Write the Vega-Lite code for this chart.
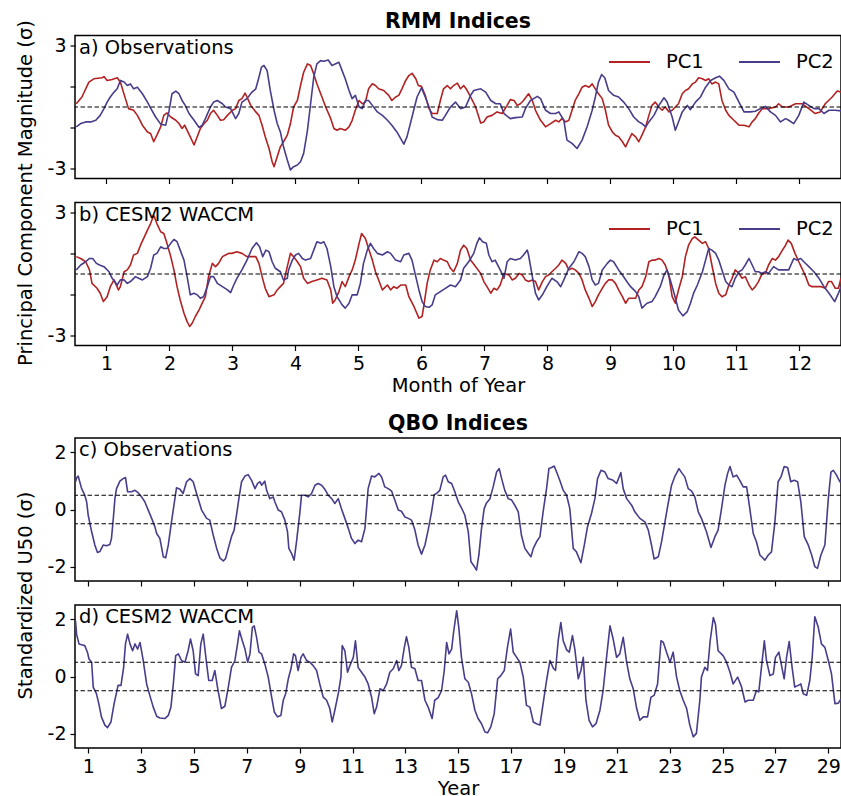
{
  "$schema": "https://vega.github.io/schema/vega-lite/v6.json",
  "background": "white",
  "padding": {"left": 14, "top": 10.5, "right": 0, "bottom": 0},
  "config": {
    "font": "DejaVu Sans",
    "view": {"stroke": "black", "strokeWidth": 1.5},
    "axis": {"domain": false, "grid": false, "ticks": true, "tickColor": "black", "tickWidth": 1.2, "tickSize": 5, "labelFont": "DejaVu Sans", "labelFontSize": 19, "labelColor": "black", "labelPadding": 4, "titleFont": "DejaVu Sans", "titleFontSize": 19.5, "titleFontWeight": "normal", "titleColor": "black", "titlePadding": 3},
    "title": {"font": "DejaVu Sans", "fontSize": 20.5, "fontWeight": "bold", "color": "black", "offset": 3.5, "anchor": "middle", "frame": "group"}
  },
  "datasets": {
    "rmmA": [
      {"s":"PC1","m":0.52,"v":0.16},{"s":"PC1","m":0.61,"v":0.49},{"s":"PC1","m":0.72,"v":1.22},{"s":"PC1","m":0.80,"v":1.38},{"s":"PC1","m":0.93,"v":1.43},{"s":"PC1","m":0.96,"v":1.49},{"s":"PC1","m":1.01,"v":1.30},{"s":"PC1","m":1.09,"v":1.35},{"s":"PC1","m":1.17,"v":1.43},{"s":"PC1","m":1.22,"v":1.22},{"s":"PC1","m":1.30,"v":0.41},{"s":"PC1","m":1.35,"v":-0.08},{"s":"PC1","m":1.43,"v":-0.16},{"s":"PC1","m":1.49,"v":-0.41},{"s":"PC1","m":1.57,"v":-0.89},{"s":"PC1","m":1.65,"v":-1.22},{"s":"PC1","m":1.70,"v":-1.30},{"s":"PC1","m":1.75,"v":-1.70},{"s":"PC1","m":1.80,"v":-1.38},{"s":"PC1","m":1.86,"v":-0.97},{"s":"PC1","m":1.91,"v":-0.41},{"s":"PC1","m":1.96,"v":-0.29},{"s":"PC1","m":2.02,"v":-0.49},{"s":"PC1","m":2.10,"v":-0.65},{"s":"PC1","m":2.15,"v":-0.81},{"s":"PC1","m":2.20,"v":-1.05},{"s":"PC1","m":2.24,"v":-0.89},{"s":"PC1","m":2.28,"v":-1.14},{"s":"PC1","m":2.33,"v":-1.46},{"s":"PC1","m":2.39,"v":-1.86},{"s":"PC1","m":2.44,"v":-1.46},{"s":"PC1","m":2.49,"v":-1.05},{"s":"PC1","m":2.55,"v":-0.81},{"s":"PC1","m":2.60,"v":-0.65},{"s":"PC1","m":2.65,"v":-0.32},{"s":"PC1","m":2.70,"v":-0.16},{"s":"PC1","m":2.76,"v":-0.41},{"s":"PC1","m":2.81,"v":-0.65},{"s":"PC1","m":2.86,"v":-0.62},{"s":"PC1","m":2.92,"v":-0.41},{"s":"PC1","m":3.00,"v":-0.16},{"s":"PC1","m":3.05,"v":-0.08},{"s":"PC1","m":3.10,"v":0.32},{"s":"PC1","m":3.15,"v":0.41},{"s":"PC1","m":3.20,"v":0.68},{"s":"PC1","m":3.23,"v":0.49},{"s":"PC1","m":3.29,"v":0.08},{"s":"PC1","m":3.37,"v":-0.24},{"s":"PC1","m":3.42,"v":-0.41},{"s":"PC1","m":3.47,"v":-0.89},{"s":"PC1","m":3.52,"v":-1.46},{"s":"PC1","m":3.58,"v":-2.03},{"s":"PC1","m":3.63,"v":-2.68},{"s":"PC1","m":3.66,"v":-2.92},{"s":"PC1","m":3.71,"v":-2.43},{"s":"PC1","m":3.76,"v":-1.95},{"s":"PC1","m":3.81,"v":-1.70},{"s":"PC1","m":3.87,"v":-1.38},{"s":"PC1","m":3.92,"v":-0.81},{"s":"PC1","m":3.97,"v":0.00},{"s":"PC1","m":4.03,"v":0.32},{"s":"PC1","m":4.08,"v":1.05},{"s":"PC1","m":4.13,"v":1.70},{"s":"PC1","m":4.19,"v":2.11},{"s":"PC1","m":4.24,"v":2.03},{"s":"PC1","m":4.29,"v":1.62},{"s":"PC1","m":4.34,"v":1.14},{"s":"PC1","m":4.42,"v":0.49},{"s":"PC1","m":4.48,"v":0.00},{"s":"PC1","m":4.56,"v":-0.57},{"s":"PC1","m":4.61,"v":-1.05},{"s":"PC1","m":4.66,"v":-1.14},{"s":"PC1","m":4.71,"v":-1.05},{"s":"PC1","m":4.79,"v":-1.14},{"s":"PC1","m":4.85,"v":-0.97},{"s":"PC1","m":4.90,"v":-0.65},{"s":"PC1","m":4.95,"v":-0.16},{"s":"PC1","m":5.01,"v":0.32},{"s":"PC1","m":5.06,"v":0.16},{"s":"PC1","m":5.11,"v":0.24},{"s":"PC1","m":5.16,"v":0.89},{"s":"PC1","m":5.22,"v":1.14},{"s":"PC1","m":5.27,"v":1.05},{"s":"PC1","m":5.32,"v":0.89},{"s":"PC1","m":5.40,"v":0.81},{"s":"PC1","m":5.48,"v":0.57},{"s":"PC1","m":5.53,"v":0.32},{"s":"PC1","m":5.59,"v":0.49},{"s":"PC1","m":5.64,"v":0.57},{"s":"PC1","m":5.69,"v":0.89},{"s":"PC1","m":5.75,"v":1.30},{"s":"PC1","m":5.80,"v":1.54},{"s":"PC1","m":5.85,"v":1.65},{"s":"PC1","m":5.91,"v":1.38},{"s":"PC1","m":5.95,"v":1.05},{"s":"PC1","m":6.00,"v":1.01},
      {"s":"PC1","m":6.06,"v":0.57},{"s":"PC1","m":6.12,"v":-0.08},{"s":"PC1","m":6.17,"v":-0.32},{"s":"PC1","m":6.25,"v":-0.32},{"s":"PC1","m":6.30,"v":0.32},{"s":"PC1","m":6.35,"v":0.89},{"s":"PC1","m":6.41,"v":1.05},{"s":"PC1","m":6.46,"v":0.89},{"s":"PC1","m":6.51,"v":1.05},{"s":"PC1","m":6.57,"v":1.17},{"s":"PC1","m":6.62,"v":0.89},{"s":"PC1","m":6.67,"v":1.05},{"s":"PC1","m":6.72,"v":0.84},{"s":"PC1","m":6.78,"v":0.49},{"s":"PC1","m":6.86,"v":0.00},{"s":"PC1","m":6.91,"v":-0.49},{"s":"PC1","m":6.94,"v":-0.78},{"s":"PC1","m":6.99,"v":-0.73},{"s":"PC1","m":7.04,"v":-0.49},{"s":"PC1","m":7.12,"v":-0.41},{"s":"PC1","m":7.20,"v":-0.24},{"s":"PC1","m":7.28,"v":-0.32},{"s":"PC1","m":7.36,"v":0.08},{"s":"PC1","m":7.41,"v":0.36},{"s":"PC1","m":7.47,"v":0.32},{"s":"PC1","m":7.52,"v":0.08},{"s":"PC1","m":7.57,"v":0.16},{"s":"PC1","m":7.62,"v":0.32},{"s":"PC1","m":7.70,"v":0.65},{"s":"PC1","m":7.76,"v":0.32},{"s":"PC1","m":7.81,"v":-0.16},{"s":"PC1","m":7.89,"v":-0.65},{"s":"PC1","m":7.97,"v":-0.97},{"s":"PC1","m":8.05,"v":-0.81},{"s":"PC1","m":8.13,"v":-0.65},{"s":"PC1","m":8.18,"v":-0.73},{"s":"PC1","m":8.23,"v":-0.57},{"s":"PC1","m":8.29,"v":-0.73},{"s":"PC1","m":8.34,"v":-0.65},{"s":"PC1","m":8.39,"v":-0.16},{"s":"PC1","m":8.44,"v":0.32},{"s":"PC1","m":8.50,"v":0.65},{"s":"PC1","m":8.55,"v":0.97},{"s":"PC1","m":8.60,"v":1.05},{"s":"PC1","m":8.66,"v":0.97},{"s":"PC1","m":8.71,"v":1.13},{"s":"PC1","m":8.76,"v":0.89},{"s":"PC1","m":8.81,"v":0.65},{"s":"PC1","m":8.87,"v":0.41},{"s":"PC1","m":8.92,"v":-0.16},{"s":"PC1","m":8.97,"v":-0.89},{"s":"PC1","m":9.03,"v":-1.22},{"s":"PC1","m":9.08,"v":-1.38},{"s":"PC1","m":9.13,"v":-1.46},{"s":"PC1","m":9.19,"v":-1.70},{"s":"PC1","m":9.24,"v":-1.95},{"s":"PC1","m":9.29,"v":-1.62},{"s":"PC1","m":9.34,"v":-1.30},{"s":"PC1","m":9.40,"v":-1.46},{"s":"PC1","m":9.45,"v":-1.70},{"s":"PC1","m":9.50,"v":-1.38},{"s":"PC1","m":9.56,"v":-0.97},{"s":"PC1","m":9.61,"v":-0.41},{"s":"PC1","m":9.66,"v":0.08},{"s":"PC1","m":9.71,"v":0.24},{"s":"PC1","m":9.77,"v":0.00},{"s":"PC1","m":9.82,"v":-0.16},{"s":"PC1","m":9.87,"v":0.00},{"s":"PC1","m":9.93,"v":-0.24},{"s":"PC1","m":9.98,"v":-0.16},{"s":"PC1","m":10.03,"v":0.00},{"s":"PC1","m":10.08,"v":0.16},{"s":"PC1","m":10.14,"v":0.65},{"s":"PC1","m":10.19,"v":0.81},{"s":"PC1","m":10.24,"v":0.89},{"s":"PC1","m":10.30,"v":1.13},{"s":"PC1","m":10.35,"v":1.22},{"s":"PC1","m":10.40,"v":1.43},{"s":"PC1","m":10.46,"v":1.38},{"s":"PC1","m":10.51,"v":1.30},{"s":"PC1","m":10.56,"v":1.38},{"s":"PC1","m":10.61,"v":1.13},{"s":"PC1","m":10.67,"v":1.22},{"s":"PC1","m":10.72,"v":1.13},{"s":"PC1","m":10.77,"v":0.32},{"s":"PC1","m":10.83,"v":-0.16},{"s":"PC1","m":10.88,"v":-0.41},{"s":"PC1","m":10.96,"v":-0.65},{"s":"PC1","m":11.04,"v":-0.89},{"s":"PC1","m":11.12,"v":-0.89},{"s":"PC1","m":11.20,"v":-0.97},{"s":"PC1","m":11.25,"v":-0.73},{"s":"PC1","m":11.30,"v":-0.57},{"s":"PC1","m":11.35,"v":-0.32},{"s":"PC1","m":11.41,"v":-0.08},{"s":"PC1","m":11.51,"v":-0.08},{"s":"PC1","m":11.62,"v":0.00},{"s":"PC1","m":11.67,"v":0.16},{"s":"PC1","m":11.73,"v":0.00},{"s":"PC1","m":11.83,"v":0.00},{"s":"PC1","m":11.94,"v":0.16},{"s":"PC1","m":12.04,"v":0.16},{"s":"PC1","m":12.15,"v":-0.08},{"s":"PC1","m":12.25,"v":-0.32},{"s":"PC1","m":12.33,"v":-0.24},{"s":"PC1","m":12.41,"v":0.16},{"s":"PC1","m":12.52,"v":0.49},{"s":"PC1","m":12.60,"v":0.78},{"s":"PC1","m":12.66,"v":0.73},
      {"s":"PC2","m":0.52,"v":-0.97},{"s":"PC2","m":0.59,"v":-0.81},{"s":"PC2","m":0.67,"v":-0.73},{"s":"PC2","m":0.75,"v":-0.73},{"s":"PC2","m":0.83,"v":-0.65},{"s":"PC2","m":0.90,"v":-0.41},{"s":"PC2","m":0.96,"v":-0.08},{"s":"PC2","m":1.01,"v":0.24},{"s":"PC2","m":1.06,"v":0.49},{"s":"PC2","m":1.12,"v":0.73},{"s":"PC2","m":1.17,"v":0.89},{"s":"PC2","m":1.22,"v":1.30},{"s":"PC2","m":1.28,"v":1.22},{"s":"PC2","m":1.33,"v":1.05},{"s":"PC2","m":1.38,"v":1.13},{"s":"PC2","m":1.43,"v":0.89},{"s":"PC2","m":1.49,"v":0.97},{"s":"PC2","m":1.57,"v":0.65},{"s":"PC2","m":1.65,"v":0.24},{"s":"PC2","m":1.72,"v":-0.16},{"s":"PC2","m":1.78,"v":-0.49},{"s":"PC2","m":1.86,"v":-0.84},{"s":"PC2","m":1.94,"v":-0.89},{"s":"PC2","m":1.99,"v":-0.24},{"s":"PC2","m":2.04,"v":0.65},{"s":"PC2","m":2.10,"v":0.78},{"s":"PC2","m":2.15,"v":0.65},{"s":"PC2","m":2.20,"v":0.32},{"s":"PC2","m":2.25,"v":0.08},{"s":"PC2","m":2.31,"v":-0.32},{"s":"PC2","m":2.39,"v":-0.65},{"s":"PC2","m":2.47,"v":-1.00},{"s":"PC2","m":2.52,"v":-0.89},{"s":"PC2","m":2.57,"v":-0.57},{"s":"PC2","m":2.65,"v":0.00},{"s":"PC2","m":2.70,"v":0.24},{"s":"PC2","m":2.76,"v":0.32},{"s":"PC2","m":2.84,"v":0.16},{"s":"PC2","m":2.89,"v":0.00},{"s":"PC2","m":2.97,"v":-0.08},{"s":"PC2","m":3.05,"v":-0.57},{"s":"PC2","m":3.10,"v":-0.32},{"s":"PC2","m":3.15,"v":0.24},{"s":"PC2","m":3.23,"v":0.41},{"s":"PC2","m":3.31,"v":0.73},{"s":"PC2","m":3.37,"v":0.89},{"s":"PC2","m":3.42,"v":1.46},{"s":"PC2","m":3.46,"v":1.95},{"s":"PC2","m":3.50,"v":2.03},{"s":"PC2","m":3.55,"v":1.78},{"s":"PC2","m":3.60,"v":0.81},{"s":"PC2","m":3.66,"v":-0.16},{"s":"PC2","m":3.71,"v":-0.81},{"s":"PC2","m":3.76,"v":-1.22},{"s":"PC2","m":3.81,"v":-1.95},{"s":"PC2","m":3.87,"v":-2.59},{"s":"PC2","m":3.92,"v":-3.08},{"s":"PC2","m":3.97,"v":-2.92},{"s":"PC2","m":4.03,"v":-2.84},{"s":"PC2","m":4.08,"v":-2.68},{"s":"PC2","m":4.13,"v":-2.27},{"s":"PC2","m":4.19,"v":-1.14},{"s":"PC2","m":4.24,"v":0.16},{"s":"PC2","m":4.29,"v":1.46},{"s":"PC2","m":4.34,"v":2.11},{"s":"PC2","m":4.40,"v":2.27},{"s":"PC2","m":4.45,"v":2.24},{"s":"PC2","m":4.52,"v":2.30},{"s":"PC2","m":4.58,"v":2.03},{"s":"PC2","m":4.63,"v":2.11},{"s":"PC2","m":4.69,"v":2.19},{"s":"PC2","m":4.74,"v":1.78},{"s":"PC2","m":4.79,"v":1.38},{"s":"PC2","m":4.85,"v":0.81},{"s":"PC2","m":4.90,"v":0.41},{"s":"PC2","m":4.95,"v":0.57},{"s":"PC2","m":5.01,"v":0.00},{"s":"PC2","m":5.06,"v":-0.08},{"s":"PC2","m":5.11,"v":0.32},{"s":"PC2","m":5.16,"v":0.32},{"s":"PC2","m":5.22,"v":0.08},{"s":"PC2","m":5.30,"v":-0.24},{"s":"PC2","m":5.38,"v":-0.41},{"s":"PC2","m":5.46,"v":-0.65},{"s":"PC2","m":5.53,"v":-0.89},{"s":"PC2","m":5.61,"v":-1.22},{"s":"PC2","m":5.72,"v":-1.82},{"s":"PC2","m":5.77,"v":-1.46},{"s":"PC2","m":5.85,"v":-0.49},{"s":"PC2","m":5.93,"v":0.49},{"s":"PC2","m":6.00,"v":0.94},
      {"s":"PC2","m":6.06,"v":0.49},{"s":"PC2","m":6.12,"v":0.00},{"s":"PC2","m":6.17,"v":-0.49},{"s":"PC2","m":6.25,"v":-0.62},{"s":"PC2","m":6.33,"v":-0.65},{"s":"PC2","m":6.38,"v":-0.41},{"s":"PC2","m":6.46,"v":0.00},{"s":"PC2","m":6.54,"v":0.24},{"s":"PC2","m":6.62,"v":-0.08},{"s":"PC2","m":6.70,"v":0.00},{"s":"PC2","m":6.78,"v":0.57},{"s":"PC2","m":6.83,"v":0.81},{"s":"PC2","m":6.94,"v":0.89},{"s":"PC2","m":7.02,"v":0.73},{"s":"PC2","m":7.10,"v":0.32},{"s":"PC2","m":7.18,"v":0.16},{"s":"PC2","m":7.25,"v":0.16},{"s":"PC2","m":7.31,"v":-0.32},{"s":"PC2","m":7.41,"v":-0.57},{"s":"PC2","m":7.49,"v":-0.52},{"s":"PC2","m":7.60,"v":-0.49},{"s":"PC2","m":7.65,"v":-0.08},{"s":"PC2","m":7.73,"v":0.32},{"s":"PC2","m":7.84,"v":0.52},{"s":"PC2","m":7.89,"v":0.41},{"s":"PC2","m":7.97,"v":-0.16},{"s":"PC2","m":8.05,"v":-0.32},{"s":"PC2","m":8.13,"v":-0.32},{"s":"PC2","m":8.18,"v":-0.24},{"s":"PC2","m":8.26,"v":-0.65},{"s":"PC2","m":8.31,"v":-1.62},{"s":"PC2","m":8.39,"v":-1.78},{"s":"PC2","m":8.47,"v":-2.03},{"s":"PC2","m":8.55,"v":-1.62},{"s":"PC2","m":8.63,"v":-0.97},{"s":"PC2","m":8.71,"v":-0.16},{"s":"PC2","m":8.76,"v":0.49},{"s":"PC2","m":8.81,"v":1.22},{"s":"PC2","m":8.86,"v":1.59},{"s":"PC2","m":8.91,"v":1.43},{"s":"PC2","m":8.97,"v":0.81},{"s":"PC2","m":9.05,"v":0.57},{"s":"PC2","m":9.13,"v":0.49},{"s":"PC2","m":9.21,"v":0.24},{"s":"PC2","m":9.29,"v":-0.08},{"s":"PC2","m":9.37,"v":-0.49},{"s":"PC2","m":9.45,"v":-0.73},{"s":"PC2","m":9.50,"v":-0.81},{"s":"PC2","m":9.56,"v":-0.97},{"s":"PC2","m":9.61,"v":-0.73},{"s":"PC2","m":9.69,"v":-0.41},{"s":"PC2","m":9.77,"v":0.08},{"s":"PC2","m":9.85,"v":0.45},{"s":"PC2","m":9.90,"v":0.24},{"s":"PC2","m":9.98,"v":-0.49},{"s":"PC2","m":10.03,"v":-1.14},{"s":"PC2","m":10.08,"v":-0.73},{"s":"PC2","m":10.14,"v":-0.24},{"s":"PC2","m":10.22,"v":0.08},{"s":"PC2","m":10.27,"v":-0.13},{"s":"PC2","m":10.35,"v":0.24},{"s":"PC2","m":10.43,"v":0.49},{"s":"PC2","m":10.51,"v":0.97},{"s":"PC2","m":10.59,"v":1.30},{"s":"PC2","m":10.67,"v":1.43},{"s":"PC2","m":10.73,"v":1.51},{"s":"PC2","m":10.80,"v":1.30},{"s":"PC2","m":10.88,"v":0.89},{"s":"PC2","m":10.96,"v":0.73},{"s":"PC2","m":11.04,"v":0.24},{"s":"PC2","m":11.12,"v":-0.24},{"s":"PC2","m":11.22,"v":-0.24},{"s":"PC2","m":11.30,"v":-0.21},{"s":"PC2","m":11.38,"v":-0.08},{"s":"PC2","m":11.46,"v":0.03},{"s":"PC2","m":11.54,"v":-0.24},{"s":"PC2","m":11.62,"v":-0.41},{"s":"PC2","m":11.70,"v":-0.73},{"s":"PC2","m":11.78,"v":-0.57},{"s":"PC2","m":11.83,"v":-0.65},{"s":"PC2","m":11.91,"v":-0.81},{"s":"PC2","m":11.99,"v":-0.41},{"s":"PC2","m":12.07,"v":0.24},{"s":"PC2","m":12.15,"v":0.08},{"s":"PC2","m":12.23,"v":-0.08},{"s":"PC2","m":12.31,"v":-0.08},{"s":"PC2","m":12.39,"v":-0.32},{"s":"PC2","m":12.47,"v":-0.16},{"s":"PC2","m":12.57,"v":-0.16},{"s":"PC2","m":12.66,"v":-0.19}
    ],
    "rmmB": [
      {"s":"PC1","m":0.52,"v":0.85},{"s":"PC1","m":0.59,"v":0.76},{"s":"PC1","m":0.67,"v":0.60},{"s":"PC1","m":0.73,"v":0.20},{"s":"PC1","m":0.77,"v":-0.46},{"s":"PC1","m":0.85,"v":-0.70},{"s":"PC1","m":0.90,"v":-0.94},{"s":"PC1","m":0.95,"v":-1.35},{"s":"PC1","m":1.01,"v":-1.11},{"s":"PC1","m":1.06,"v":-0.62},{"s":"PC1","m":1.12,"v":-0.29},{"s":"PC1","m":1.19,"v":-0.78},{"s":"PC1","m":1.22,"v":-0.62},{"s":"PC1","m":1.28,"v":0.11},{"s":"PC1","m":1.33,"v":0.20},{"s":"PC1","m":1.38,"v":0.44},{"s":"PC1","m":1.43,"v":0.93},{"s":"PC1","m":1.49,"v":1.01},{"s":"PC1","m":1.54,"v":1.41},{"s":"PC1","m":1.59,"v":1.74},{"s":"PC1","m":1.65,"v":2.15},{"s":"PC1","m":1.70,"v":2.47},{"s":"PC1","m":1.75,"v":2.88},{"s":"PC1","m":1.80,"v":2.47},{"s":"PC1","m":1.86,"v":2.07},{"s":"PC1","m":1.91,"v":1.98},{"s":"PC1","m":1.96,"v":1.50},{"s":"PC1","m":2.02,"v":0.85},{"s":"PC1","m":2.07,"v":0.20},{"s":"PC1","m":2.12,"v":-0.62},{"s":"PC1","m":2.17,"v":-1.27},{"s":"PC1","m":2.23,"v":-1.92},{"s":"PC1","m":2.28,"v":-2.33},{"s":"PC1","m":2.32,"v":-2.57},{"s":"PC1","m":2.36,"v":-2.41},{"s":"PC1","m":2.41,"v":-2.08},{"s":"PC1","m":2.47,"v":-1.76},{"s":"PC1","m":2.52,"v":-1.43},{"s":"PC1","m":2.57,"v":-1.11},{"s":"PC1","m":2.62,"v":-0.13},{"s":"PC1","m":2.68,"v":0.52},{"s":"PC1","m":2.73,"v":0.36},{"s":"PC1","m":2.78,"v":0.52},{"s":"PC1","m":2.84,"v":0.85},{"s":"PC1","m":2.89,"v":0.93},{"s":"PC1","m":2.94,"v":1.01},{"s":"PC1","m":2.99,"v":1.01},{"s":"PC1","m":3.07,"v":1.09},{"s":"PC1","m":3.15,"v":1.01},{"s":"PC1","m":3.23,"v":0.85},{"s":"PC1","m":3.29,"v":0.85},{"s":"PC1","m":3.37,"v":0.85},{"s":"PC1","m":3.42,"v":0.52},{"s":"PC1","m":3.47,"v":-0.13},{"s":"PC1","m":3.52,"v":-0.70},{"s":"PC1","m":3.58,"v":-1.11},{"s":"PC1","m":3.66,"v":-1.02},{"s":"PC1","m":3.71,"v":-0.78},{"s":"PC1","m":3.76,"v":-0.62},{"s":"PC1","m":3.81,"v":-0.46},{"s":"PC1","m":3.87,"v":0.36},{"s":"PC1","m":3.92,"v":1.01},{"s":"PC1","m":3.97,"v":0.85},{"s":"PC1","m":4.03,"v":0.60},{"s":"PC1","m":4.08,"v":0.36},{"s":"PC1","m":4.13,"v":-0.21},{"s":"PC1","m":4.19,"v":-0.46},{"s":"PC1","m":4.26,"v":-0.37},{"s":"PC1","m":4.34,"v":-0.29},{"s":"PC1","m":4.42,"v":-0.21},{"s":"PC1","m":4.50,"v":-0.29},{"s":"PC1","m":4.56,"v":-0.78},{"s":"PC1","m":4.59,"v":-1.43},{"s":"PC1","m":4.63,"v":-1.27},{"s":"PC1","m":4.69,"v":-0.86},{"s":"PC1","m":4.74,"v":-0.37},{"s":"PC1","m":4.79,"v":-0.62},{"s":"PC1","m":4.85,"v":-0.13},{"s":"PC1","m":4.90,"v":0.20},{"s":"PC1","m":4.95,"v":0.68},{"s":"PC1","m":5.01,"v":1.50},{"s":"PC1","m":5.05,"v":1.98},{"s":"PC1","m":5.11,"v":1.74},{"s":"PC1","m":5.16,"v":1.25},{"s":"PC1","m":5.22,"v":0.68},{"s":"PC1","m":5.27,"v":0.11},{"s":"PC1","m":5.32,"v":-0.29},{"s":"PC1","m":5.38,"v":-0.78},{"s":"PC1","m":5.46,"v":-0.54},{"s":"PC1","m":5.51,"v":-0.78},{"s":"PC1","m":5.56,"v":-0.62},{"s":"PC1","m":5.61,"v":-0.70},{"s":"PC1","m":5.67,"v":-0.54},{"s":"PC1","m":5.75,"v":-0.54},{"s":"PC1","m":5.80,"v":-1.11},{"s":"PC1","m":5.88,"v":-1.59},{"s":"PC1","m":5.96,"v":-2.16},
      {"s":"PC1","m":6.01,"v":-2.08},{"s":"PC1","m":6.04,"v":-1.51},{"s":"PC1","m":6.09,"v":-0.46},{"s":"PC1","m":6.14,"v":0.20},{"s":"PC1","m":6.20,"v":0.68},{"s":"PC1","m":6.25,"v":0.60},{"s":"PC1","m":6.30,"v":0.76},{"s":"PC1","m":6.35,"v":0.68},{"s":"PC1","m":6.41,"v":0.60},{"s":"PC1","m":6.46,"v":0.28},{"s":"PC1","m":6.51,"v":0.11},{"s":"PC1","m":6.57,"v":0.52},{"s":"PC1","m":6.62,"v":1.17},{"s":"PC1","m":6.67,"v":1.41},{"s":"PC1","m":6.72,"v":1.25},{"s":"PC1","m":6.78,"v":0.68},{"s":"PC1","m":6.86,"v":0.36},{"s":"PC1","m":6.94,"v":0.03},{"s":"PC1","m":6.99,"v":-0.37},{"s":"PC1","m":7.04,"v":-0.62},{"s":"PC1","m":7.10,"v":-0.94},{"s":"PC1","m":7.15,"v":-0.70},{"s":"PC1","m":7.20,"v":-0.78},{"s":"PC1","m":7.25,"v":-0.54},{"s":"PC1","m":7.31,"v":0.03},{"s":"PC1","m":7.39,"v":-0.05},{"s":"PC1","m":7.44,"v":-0.29},{"s":"PC1","m":7.49,"v":-0.21},{"s":"PC1","m":7.55,"v":0.03},{"s":"PC1","m":7.60,"v":-0.05},{"s":"PC1","m":7.65,"v":-0.29},{"s":"PC1","m":7.70,"v":-0.37},{"s":"PC1","m":7.76,"v":-0.29},{"s":"PC1","m":7.81,"v":-0.37},{"s":"PC1","m":7.86,"v":-0.78},{"s":"PC1","m":7.92,"v":-0.37},{"s":"PC1","m":7.97,"v":-0.13},{"s":"PC1","m":8.02,"v":-0.05},{"s":"PC1","m":8.07,"v":0.11},{"s":"PC1","m":8.13,"v":0.28},{"s":"PC1","m":8.18,"v":0.44},{"s":"PC1","m":8.23,"v":0.68},{"s":"PC1","m":8.29,"v":0.52},{"s":"PC1","m":8.34,"v":0.20},{"s":"PC1","m":8.39,"v":0.28},{"s":"PC1","m":8.44,"v":0.20},{"s":"PC1","m":8.50,"v":0.03},{"s":"PC1","m":8.55,"v":-0.29},{"s":"PC1","m":8.60,"v":-0.78},{"s":"PC1","m":8.66,"v":-1.19},{"s":"PC1","m":8.71,"v":-1.59},{"s":"PC1","m":8.76,"v":-1.35},{"s":"PC1","m":8.81,"v":-1.02},{"s":"PC1","m":8.87,"v":-0.70},{"s":"PC1","m":8.92,"v":-0.46},{"s":"PC1","m":8.97,"v":-0.29},{"s":"PC1","m":9.03,"v":-0.29},{"s":"PC1","m":9.08,"v":-0.46},{"s":"PC1","m":9.13,"v":-0.78},{"s":"PC1","m":9.19,"v":-1.11},{"s":"PC1","m":9.24,"v":-1.43},{"s":"PC1","m":9.29,"v":-1.19},{"s":"PC1","m":9.34,"v":-1.19},{"s":"PC1","m":9.40,"v":-1.19},{"s":"PC1","m":9.45,"v":-0.78},{"s":"PC1","m":9.50,"v":-0.62},{"s":"PC1","m":9.56,"v":-0.13},{"s":"PC1","m":9.61,"v":0.60},{"s":"PC1","m":9.66,"v":0.68},{"s":"PC1","m":9.71,"v":0.68},{"s":"PC1","m":9.77,"v":0.76},{"s":"PC1","m":9.82,"v":0.68},{"s":"PC1","m":9.87,"v":0.44},{"s":"PC1","m":9.93,"v":-0.13},{"s":"PC1","m":9.98,"v":-1.11},{"s":"PC1","m":10.03,"v":-1.43},{"s":"PC1","m":10.08,"v":-0.78},{"s":"PC1","m":10.14,"v":-0.13},{"s":"PC1","m":10.19,"v":0.85},{"s":"PC1","m":10.24,"v":1.41},{"s":"PC1","m":10.30,"v":1.74},{"s":"PC1","m":10.34,"v":1.82},{"s":"PC1","m":10.40,"v":1.66},{"s":"PC1","m":10.46,"v":1.50},{"s":"PC1","m":10.51,"v":1.58},{"s":"PC1","m":10.56,"v":1.25},{"s":"PC1","m":10.61,"v":0.44},{"s":"PC1","m":10.67,"v":-0.46},{"s":"PC1","m":10.72,"v":-0.94},{"s":"PC1","m":10.77,"v":-1.11},{"s":"PC1","m":10.83,"v":-1.02},{"s":"PC1","m":10.88,"v":-0.54},{"s":"PC1","m":10.93,"v":-0.21},{"s":"PC1","m":10.98,"v":0.20},{"s":"PC1","m":11.04,"v":0.03},{"s":"PC1","m":11.09,"v":-0.21},{"s":"PC1","m":11.14,"v":-0.13},{"s":"PC1","m":11.20,"v":-0.54},{"s":"PC1","m":11.25,"v":-0.78},{"s":"PC1","m":11.30,"v":-0.62},{"s":"PC1","m":11.35,"v":-0.37},{"s":"PC1","m":11.41,"v":0.03},{"s":"PC1","m":11.46,"v":0.03},{"s":"PC1","m":11.51,"v":0.44},{"s":"PC1","m":11.57,"v":0.76},{"s":"PC1","m":11.62,"v":0.68},{"s":"PC1","m":11.67,"v":0.85},{"s":"PC1","m":11.73,"v":1.17},{"s":"PC1","m":11.78,"v":1.41},{"s":"PC1","m":11.82,"v":1.66},{"s":"PC1","m":11.87,"v":1.50},{"s":"PC1","m":11.93,"v":1.01},{"s":"PC1","m":11.99,"v":0.60},{"s":"PC1","m":12.04,"v":0.28},{"s":"PC1","m":12.10,"v":-0.13},{"s":"PC1","m":12.15,"v":-0.54},{"s":"PC1","m":12.20,"v":-0.62},{"s":"PC1","m":12.28,"v":-0.62},{"s":"PC1","m":12.35,"v":-0.62},{"s":"PC1","m":12.41,"v":-0.70},{"s":"PC1","m":12.46,"v":-0.37},{"s":"PC1","m":12.51,"v":-0.37},{"s":"PC1","m":12.57,"v":-0.70},{"s":"PC1","m":12.62,"v":-0.70},{"s":"PC1","m":12.66,"v":-0.21},
      {"s":"PC2","m":0.52,"v":0.20},{"s":"PC2","m":0.59,"v":0.44},{"s":"PC2","m":0.67,"v":0.60},{"s":"PC2","m":0.73,"v":0.76},{"s":"PC2","m":0.78,"v":0.76},{"s":"PC2","m":0.84,"v":0.52},{"s":"PC2","m":0.89,"v":0.44},{"s":"PC2","m":0.96,"v":0.36},{"s":"PC2","m":1.04,"v":0.11},{"s":"PC2","m":1.09,"v":-0.21},{"s":"PC2","m":1.17,"v":-0.54},{"s":"PC2","m":1.22,"v":-0.29},{"s":"PC2","m":1.28,"v":-0.29},{"s":"PC2","m":1.33,"v":-0.46},{"s":"PC2","m":1.38,"v":-0.37},{"s":"PC2","m":1.46,"v":-0.13},{"s":"PC2","m":1.51,"v":-0.21},{"s":"PC2","m":1.57,"v":-0.29},{"s":"PC2","m":1.65,"v":-0.13},{"s":"PC2","m":1.70,"v":0.28},{"s":"PC2","m":1.75,"v":0.93},{"s":"PC2","m":1.80,"v":1.01},{"s":"PC2","m":1.86,"v":1.33},{"s":"PC2","m":1.91,"v":1.25},{"s":"PC2","m":1.96,"v":1.25},{"s":"PC2","m":2.02,"v":1.50},{"s":"PC2","m":2.07,"v":1.69},{"s":"PC2","m":2.12,"v":1.58},{"s":"PC2","m":2.17,"v":1.17},{"s":"PC2","m":2.23,"v":0.68},{"s":"PC2","m":2.28,"v":-0.13},{"s":"PC2","m":2.33,"v":-1.02},{"s":"PC2","m":2.39,"v":-0.94},{"s":"PC2","m":2.44,"v":-1.02},{"s":"PC2","m":2.49,"v":-1.19},{"s":"PC2","m":2.54,"v":-1.11},{"s":"PC2","m":2.60,"v":-0.62},{"s":"PC2","m":2.65,"v":-0.13},{"s":"PC2","m":2.70,"v":-0.13},{"s":"PC2","m":2.76,"v":-0.46},{"s":"PC2","m":2.84,"v":-0.62},{"s":"PC2","m":2.92,"v":-0.78},{"s":"PC2","m":2.97,"v":-0.91},{"s":"PC2","m":3.02,"v":-0.54},{"s":"PC2","m":3.07,"v":-0.21},{"s":"PC2","m":3.15,"v":0.20},{"s":"PC2","m":3.23,"v":0.68},{"s":"PC2","m":3.31,"v":1.25},{"s":"PC2","m":3.38,"v":1.53},{"s":"PC2","m":3.43,"v":1.33},{"s":"PC2","m":3.48,"v":0.85},{"s":"PC2","m":3.53,"v":1.17},{"s":"PC2","m":3.58,"v":1.09},{"s":"PC2","m":3.63,"v":0.60},{"s":"PC2","m":3.68,"v":0.28},{"s":"PC2","m":3.76,"v":0.11},{"s":"PC2","m":3.81,"v":-0.29},{"s":"PC2","m":3.87,"v":-0.21},{"s":"PC2","m":3.89,"v":0.20},{"s":"PC2","m":3.95,"v":0.68},{"s":"PC2","m":4.00,"v":0.93},{"s":"PC2","m":4.05,"v":1.01},{"s":"PC2","m":4.11,"v":0.76},{"s":"PC2","m":4.16,"v":0.68},{"s":"PC2","m":4.24,"v":0.76},{"s":"PC2","m":4.29,"v":1.17},{"s":"PC2","m":4.34,"v":1.58},{"s":"PC2","m":4.40,"v":1.50},{"s":"PC2","m":4.45,"v":1.58},{"s":"PC2","m":4.50,"v":1.25},{"s":"PC2","m":4.56,"v":0.36},{"s":"PC2","m":4.61,"v":-0.62},{"s":"PC2","m":4.66,"v":-1.11},{"s":"PC2","m":4.74,"v":-1.51},{"s":"PC2","m":4.79,"v":-1.67},{"s":"PC2","m":4.85,"v":-1.43},{"s":"PC2","m":4.90,"v":-1.02},{"s":"PC2","m":4.98,"v":-1.02},{"s":"PC2","m":5.03,"v":-0.46},{"s":"PC2","m":5.08,"v":0.52},{"s":"PC2","m":5.14,"v":1.17},{"s":"PC2","m":5.19,"v":1.50},{"s":"PC2","m":5.24,"v":1.25},{"s":"PC2","m":5.30,"v":1.01},{"s":"PC2","m":5.38,"v":0.93},{"s":"PC2","m":5.46,"v":1.09},{"s":"PC2","m":5.51,"v":1.01},{"s":"PC2","m":5.59,"v":0.68},{"s":"PC2","m":5.67,"v":0.60},{"s":"PC2","m":5.72,"v":0.93},{"s":"PC2","m":5.80,"v":1.01},{"s":"PC2","m":5.85,"v":0.68},{"s":"PC2","m":5.91,"v":-0.13},{"s":"PC2","m":5.96,"v":-0.78},
      {"s":"PC2","m":6.01,"v":-1.35},{"s":"PC2","m":6.06,"v":-1.59},{"s":"PC2","m":6.12,"v":-1.63},{"s":"PC2","m":6.17,"v":-1.51},{"s":"PC2","m":6.22,"v":-1.02},{"s":"PC2","m":6.30,"v":-0.86},{"s":"PC2","m":6.38,"v":-0.70},{"s":"PC2","m":6.46,"v":-0.54},{"s":"PC2","m":6.54,"v":-0.62},{"s":"PC2","m":6.62,"v":-0.29},{"s":"PC2","m":6.67,"v":0.28},{"s":"PC2","m":6.75,"v":0.60},{"s":"PC2","m":6.83,"v":1.01},{"s":"PC2","m":6.88,"v":1.50},{"s":"PC2","m":6.92,"v":1.77},{"s":"PC2","m":6.97,"v":1.58},{"s":"PC2","m":7.03,"v":1.50},{"s":"PC2","m":7.07,"v":0.93},{"s":"PC2","m":7.12,"v":0.60},{"s":"PC2","m":7.17,"v":0.68},{"s":"PC2","m":7.25,"v":0.20},{"s":"PC2","m":7.31,"v":-0.21},{"s":"PC2","m":7.36,"v":0.60},{"s":"PC2","m":7.41,"v":0.76},{"s":"PC2","m":7.49,"v":0.68},{"s":"PC2","m":7.57,"v":0.76},{"s":"PC2","m":7.62,"v":0.93},{"s":"PC2","m":7.68,"v":1.17},{"s":"PC2","m":7.70,"v":0.93},{"s":"PC2","m":7.76,"v":-0.13},{"s":"PC2","m":7.81,"v":-0.94},{"s":"PC2","m":7.86,"v":-1.27},{"s":"PC2","m":7.92,"v":-1.02},{"s":"PC2","m":7.99,"v":-0.62},{"s":"PC2","m":8.07,"v":-0.21},{"s":"PC2","m":8.15,"v":-0.37},{"s":"PC2","m":8.21,"v":-0.62},{"s":"PC2","m":8.26,"v":-0.29},{"s":"PC2","m":8.34,"v":0.28},{"s":"PC2","m":8.42,"v":0.60},{"s":"PC2","m":8.50,"v":1.09},{"s":"PC2","m":8.55,"v":1.01},{"s":"PC2","m":8.60,"v":0.85},{"s":"PC2","m":8.66,"v":0.36},{"s":"PC2","m":8.71,"v":-0.29},{"s":"PC2","m":8.76,"v":-0.54},{"s":"PC2","m":8.81,"v":-0.46},{"s":"PC2","m":8.87,"v":0.20},{"s":"PC2","m":8.95,"v":0.52},{"s":"PC2","m":9.00,"v":0.68},{"s":"PC2","m":9.05,"v":0.60},{"s":"PC2","m":9.13,"v":0.20},{"s":"PC2","m":9.19,"v":-0.05},{"s":"PC2","m":9.26,"v":-0.37},{"s":"PC2","m":9.32,"v":-0.62},{"s":"PC2","m":9.40,"v":-0.86},{"s":"PC2","m":9.45,"v":-1.11},{"s":"PC2","m":9.50,"v":-1.67},{"s":"PC2","m":9.58,"v":-1.43},{"s":"PC2","m":9.66,"v":-1.35},{"s":"PC2","m":9.71,"v":-1.11},{"s":"PC2","m":9.79,"v":-0.62},{"s":"PC2","m":9.85,"v":-0.05},{"s":"PC2","m":9.90,"v":0.20},{"s":"PC2","m":9.95,"v":-0.29},{"s":"PC2","m":10.01,"v":-0.94},{"s":"PC2","m":10.08,"v":-1.76},{"s":"PC2","m":10.15,"v":-2.05},{"s":"PC2","m":10.22,"v":-1.84},{"s":"PC2","m":10.27,"v":-1.43},{"s":"PC2","m":10.32,"v":-0.94},{"s":"PC2","m":10.38,"v":-0.54},{"s":"PC2","m":10.46,"v":0.11},{"s":"PC2","m":10.51,"v":0.68},{"s":"PC2","m":10.56,"v":1.25},{"s":"PC2","m":10.61,"v":1.17},{"s":"PC2","m":10.67,"v":1.01},{"s":"PC2","m":10.72,"v":0.68},{"s":"PC2","m":10.77,"v":0.20},{"s":"PC2","m":10.83,"v":-0.37},{"s":"PC2","m":10.88,"v":-0.54},{"s":"PC2","m":10.93,"v":-0.62},{"s":"PC2","m":10.98,"v":-0.21},{"s":"PC2","m":11.04,"v":0.11},{"s":"PC2","m":11.09,"v":0.20},{"s":"PC2","m":11.14,"v":0.44},{"s":"PC2","m":11.20,"v":0.76},{"s":"PC2","m":11.25,"v":0.44},{"s":"PC2","m":11.30,"v":0.11},{"s":"PC2","m":11.35,"v":0.11},{"s":"PC2","m":11.41,"v":0.03},{"s":"PC2","m":11.46,"v":0.11},{"s":"PC2","m":11.51,"v":0.03},{"s":"PC2","m":11.59,"v":0.36},{"s":"PC2","m":11.67,"v":0.20},{"s":"PC2","m":11.75,"v":0.20},{"s":"PC2","m":11.83,"v":0.20},{"s":"PC2","m":11.91,"v":0.76},{"s":"PC2","m":11.96,"v":0.68},{"s":"PC2","m":12.02,"v":0.76},{"s":"PC2","m":12.07,"v":0.60},{"s":"PC2","m":12.15,"v":0.36},{"s":"PC2","m":12.23,"v":0.11},{"s":"PC2","m":12.31,"v":-0.21},{"s":"PC2","m":12.39,"v":-0.62},{"s":"PC2","m":12.47,"v":-0.94},{"s":"PC2","m":12.56,"v":-1.35},{"s":"PC2","m":12.62,"v":-0.94},{"s":"PC2","m":12.66,"v":-0.62}
    ],
    "qboC": [
      {"t":0.52,"v":0.97},{"t":0.56,"v":1.10},{"t":0.62,"v":1.17},{"t":0.75,"v":0.73},{"t":0.87,"v":0.50},{"t":0.94,"v":0.27},{"t":1.00,"v":-0.20},{"t":1.13,"v":-0.78},{"t":1.25,"v":-1.24},{"t":1.35,"v":-1.50},{"t":1.44,"v":-1.47},{"t":1.57,"v":-1.24},{"t":1.69,"v":-1.27},{"t":1.82,"v":-1.22},{"t":1.88,"v":-1.01},{"t":1.95,"v":-0.31},{"t":2.01,"v":0.38},{"t":2.07,"v":0.73},{"t":2.20,"v":0.99},{"t":2.32,"v":1.08},{"t":2.41,"v":1.12},{"t":2.49,"v":0.62},{"t":2.64,"v":0.62},{"t":2.77,"v":0.67},{"t":2.89,"v":0.59},{"t":3.02,"v":0.44},{"t":3.14,"v":0.27},{"t":3.27,"v":-0.02},{"t":3.40,"v":-0.31},{"t":3.52,"v":-0.60},{"t":3.59,"v":-0.84},{"t":3.71,"v":-1.01},{"t":3.77,"v":-1.30},{"t":3.84,"v":-1.65},{"t":3.93,"v":-1.69},{"t":4.03,"v":-1.24},{"t":4.15,"v":-0.43},{"t":4.28,"v":0.38},{"t":4.34,"v":0.76},{"t":4.47,"v":0.71},{"t":4.59,"v":0.56},{"t":4.72,"v":0.97},{"t":4.85,"v":1.08},{"t":4.97,"v":0.97},{"t":5.10,"v":0.56},{"t":5.29,"v":-0.02},{"t":5.48,"v":-0.31},{"t":5.60,"v":-0.37},{"t":5.73,"v":-0.90},{"t":5.86,"v":-1.36},{"t":5.98,"v":-1.69},{"t":6.11,"v":-1.80},{"t":6.20,"v":-1.71},{"t":6.30,"v":-1.36},{"t":6.42,"v":-0.95},{"t":6.52,"v":-0.72},{"t":6.61,"v":-0.20},{"t":6.70,"v":0.38},{"t":6.80,"v":0.97},{"t":6.93,"v":1.17},{"t":7.05,"v":1.22},{"t":7.18,"v":1.02},{"t":7.31,"v":0.73},{"t":7.41,"v":0.91},{"t":7.50,"v":0.97},{"t":7.56,"v":0.85},{"t":7.68,"v":0.99},{"t":7.75,"v":0.67},{"t":7.87,"v":0.38},{"t":8.00,"v":0.44},{"t":8.06,"v":0.27},{"t":8.19,"v":-0.02},{"t":8.31,"v":-0.08},{"t":8.44,"v":-0.37},{"t":8.54,"v":-0.78},{"t":8.59,"v":-1.36},{"t":8.69,"v":-1.53},{"t":8.79,"v":-1.77},{"t":8.88,"v":-1.13},{"t":9.01,"v":-0.08},{"t":9.07,"v":0.50},{"t":9.20,"v":0.50},{"t":9.32,"v":0.44},{"t":9.45,"v":0.56},{"t":9.58,"v":0.85},{"t":9.70,"v":0.91},{"t":9.83,"v":0.85},{"t":9.95,"v":0.71},{"t":10.08,"v":0.50},{"t":10.21,"v":0.38},{"t":10.33,"v":0.21},{"t":10.46,"v":0.38},{"t":10.58,"v":0.03},{"t":10.71,"v":-0.31},{"t":10.84,"v":-0.66},{"t":10.96,"v":-1.01},{"t":11.09,"v":-1.19},{"t":11.21,"v":-1.07},{"t":11.34,"v":-1.13},{"t":11.47,"v":-0.66},{"t":11.59,"v":0.73},{"t":11.72,"v":1.17},{"t":11.84,"v":1.14},{"t":12.00,"v":1.26},{"t":12.10,"v":1.14},{"t":12.22,"v":0.79},{"t":12.35,"v":0.73},{"t":12.48,"v":0.64},{"t":12.60,"v":0.33},{"t":12.73,"v":-0.02},{"t":12.85,"v":-0.06},{"t":12.98,"v":-0.26},{"t":13.11,"v":-0.31},{"t":13.23,"v":-0.37},{"t":13.36,"v":-0.72},{"t":13.48,"v":-1.24},{"t":13.61,"v":-1.56},
      {"t":13.74,"v":-1.24},{"t":13.86,"v":-0.72},{"t":13.99,"v":-0.08},{"t":14.09,"v":0.52},{"t":14.18,"v":0.56},{"t":14.30,"v":0.67},{"t":14.43,"v":1.14},{"t":14.52,"v":1.20},{"t":14.62,"v":0.97},{"t":14.75,"v":0.91},{"t":14.87,"v":0.62},{"t":15.00,"v":0.27},{"t":15.12,"v":0.06},{"t":15.25,"v":-0.20},{"t":15.38,"v":-0.78},{"t":15.48,"v":-1.83},{"t":15.57,"v":-1.94},{"t":15.69,"v":-2.12},{"t":15.78,"v":-1.59},{"t":15.88,"v":-0.66},{"t":15.98,"v":0.03},{"t":16.07,"v":0.23},{"t":16.20,"v":0.38},{"t":16.32,"v":0.79},{"t":16.45,"v":1.31},{"t":16.55,"v":1.43},{"t":16.64,"v":1.08},{"t":16.76,"v":0.67},{"t":16.89,"v":0.38},{"t":17.02,"v":0.33},{"t":17.14,"v":0.15},{"t":17.27,"v":-0.08},{"t":17.39,"v":-0.90},{"t":17.52,"v":-1.36},{"t":17.65,"v":-1.53},{"t":17.75,"v":-1.65},{"t":17.84,"v":-1.36},{"t":17.96,"v":-1.13},{"t":18.09,"v":-0.95},{"t":18.21,"v":-0.08},{"t":18.34,"v":0.73},{"t":18.43,"v":1.43},{"t":18.53,"v":1.47},{"t":18.63,"v":1.52},{"t":18.72,"v":1.31},{"t":18.84,"v":1.02},{"t":18.97,"v":0.67},{"t":19.10,"v":0.50},{"t":19.22,"v":0.03},{"t":19.35,"v":-1.36},{"t":19.47,"v":-1.48},{"t":19.64,"v":-1.86},{"t":19.77,"v":-1.24},{"t":19.89,"v":-0.60},{"t":20.04,"v":-0.14},{"t":20.17,"v":0.38},{"t":20.27,"v":1.08},{"t":20.40,"v":1.37},{"t":20.55,"v":1.31},{"t":20.67,"v":1.08},{"t":20.86,"v":1.02},{"t":20.99,"v":0.91},{"t":21.15,"v":1.29},{"t":21.24,"v":0.73},{"t":21.37,"v":0.38},{"t":21.56,"v":0.15},{"t":21.68,"v":-0.08},{"t":21.87,"v":-0.31},{"t":22.06,"v":-0.43},{"t":22.19,"v":-0.72},{"t":22.31,"v":-1.24},{"t":22.41,"v":-1.73},{"t":22.57,"v":-1.65},{"t":22.69,"v":-1.13},{"t":22.82,"v":-0.43},{"t":22.94,"v":0.21},{"t":23.07,"v":0.85},{"t":23.20,"v":1.17},{"t":23.35,"v":1.43},{"t":23.45,"v":1.29},{"t":23.57,"v":1.14},{"t":23.70,"v":0.73},{"t":23.83,"v":0.64},{"t":23.95,"v":0.44},{"t":24.08,"v":-0.08},{"t":24.20,"v":-0.31},{"t":24.39,"v":-0.78},{"t":24.56,"v":-1.33},{"t":24.71,"v":-0.95},{"t":24.83,"v":-0.72},{"t":24.96,"v":0.03},{"t":25.09,"v":0.85},{"t":25.19,"v":1.26},{"t":25.28,"v":1.50},{"t":25.40,"v":1.14},{"t":25.53,"v":1.20},{"t":25.65,"v":1.02},{"t":25.78,"v":0.79},{"t":25.91,"v":0.79},{"t":26.03,"v":0.03},{"t":26.16,"v":-0.84},{"t":26.28,"v":-1.13},{"t":26.41,"v":-1.59},{"t":26.60,"v":-1.77},{"t":26.73,"v":-1.59},{"t":26.85,"v":-1.48},{"t":26.98,"v":-0.43},{"t":27.10,"v":0.97},{"t":27.21,"v":1.14},{"t":27.33,"v":1.50},{"t":27.46,"v":1.47},{"t":27.58,"v":0.97},{"t":27.71,"v":1.02},{"t":27.84,"v":0.97},{"t":27.96,"v":0.27},{"t":28.09,"v":-0.95},{"t":28.24,"v":-1.24},{"t":28.37,"v":-1.59},{"t":28.49,"v":-2.00},{"t":28.59,"v":-2.06},{"t":28.72,"v":-1.59},{"t":28.87,"v":-1.24},{"t":29.00,"v":0.38},{"t":29.10,"v":1.31},{"t":29.19,"v":1.37},{"t":29.31,"v":1.20},{"t":29.44,"v":0.97},{"t":29.47,"v":1.02}
    ],
    "qboD": [
      {"t":0.52,"v":1.95},{"t":0.56,"v":1.48},{"t":0.65,"v":1.14},{"t":0.75,"v":1.11},{"t":0.87,"v":1.08},{"t":0.97,"v":0.85},{"t":1.03,"v":0.61},{"t":1.13,"v":0.50},{"t":1.19,"v":-0.37},{"t":1.31,"v":-0.60},{"t":1.40,"v":-0.95},{"t":1.50,"v":-1.41},{"t":1.63,"v":-1.70},{"t":1.73,"v":-1.79},{"t":1.86,"v":-1.59},{"t":1.98,"v":-0.95},{"t":2.13,"v":-0.31},{"t":2.24,"v":-0.31},{"t":2.34,"v":0.32},{"t":2.41,"v":1.14},{"t":2.49,"v":1.48},{"t":2.58,"v":1.14},{"t":2.68,"v":0.90},{"t":2.77,"v":1.14},{"t":2.87,"v":0.96},{"t":2.96,"v":1.19},{"t":3.08,"v":0.56},{"t":3.21,"v":-0.26},{"t":3.33,"v":-0.66},{"t":3.46,"v":-1.07},{"t":3.59,"v":-1.39},{"t":3.71,"v":-1.45},{"t":3.90,"v":-1.47},{"t":4.03,"v":-1.36},{"t":4.13,"v":-1.07},{"t":4.22,"v":-0.26},{"t":4.31,"v":0.73},{"t":4.41,"v":0.79},{"t":4.53,"v":0.56},{"t":4.66,"v":0.50},{"t":4.78,"v":0.90},{"t":4.87,"v":1.31},{"t":4.97,"v":0.90},{"t":5.06,"v":0.09},{"t":5.16,"v":0.03},{"t":5.26,"v":1.14},{"t":5.35,"v":1.48},{"t":5.48,"v":0.44},{"t":5.56,"v":-0.14},{"t":5.69,"v":-0.14},{"t":5.79,"v":0.21},{"t":5.89,"v":-0.37},{"t":6.04,"v":-1.12},{"t":6.17,"v":-1.04},{"t":6.30,"v":-0.37},{"t":6.42,"v":0.32},{"t":6.55,"v":0.56},{"t":6.65,"v":1.14},{"t":6.72,"v":1.60},{"t":6.83,"v":1.25},{"t":6.93,"v":0.96},{"t":7.03,"v":0.50},{"t":7.12,"v":0.79},{"t":7.21,"v":1.72},{"t":7.28,"v":1.77},{"t":7.37,"v":1.37},{"t":7.46,"v":0.85},{"t":7.56,"v":0.79},{"t":7.68,"v":0.44},{"t":7.81,"v":-0.02},{"t":7.94,"v":-0.72},{"t":8.04,"v":-1.24},{"t":8.16,"v":-1.41},{"t":8.29,"v":-1.36},{"t":8.38,"v":-0.83},{"t":8.47,"v":-0.60},{"t":8.57,"v":-0.08},{"t":8.67,"v":0.27},{"t":8.77,"v":0.79},{"t":8.84,"v":0.73},{"t":8.94,"v":0.21},{"t":9.05,"v":0.67},{"t":9.13,"v":0.79},{"t":9.26,"v":0.56},{"t":9.39,"v":0.50},{"t":9.51,"v":0.38},{"t":9.64,"v":0.21},{"t":9.76,"v":-0.26},{"t":9.89,"v":-0.72},{"t":10.02,"v":-0.83},{"t":10.14,"v":-1.12},{"t":10.23,"v":-1.59},{"t":10.33,"v":-1.18},{"t":10.46,"v":-0.60},{"t":10.56,"v":-0.02},{"t":10.61,"v":1.08},{"t":10.71,"v":0.90},{"t":10.81,"v":0.15},{"t":10.90,"v":0.38},{"t":11.03,"v":0.67},{"t":11.11,"v":1.25},{"t":11.21,"v":0.32},{"t":11.34,"v":0.15},{"t":11.47,"v":-0.02},{"t":11.59,"v":-0.26},{"t":11.72,"v":-0.72},{"t":11.82,"v":-1.30},{"t":11.91,"v":-1.07},{"t":12.04,"v":-0.43},{"t":12.16,"v":-0.49},{"t":12.29,"v":-0.26},{"t":12.41,"v":0.15},{"t":12.54,"v":0.27},{"t":12.67,"v":0.56},{"t":12.75,"v":0.21},{"t":12.85,"v":0.38},{"t":12.96,"v":1.02},{"t":13.04,"v":1.39},{"t":13.13,"v":1.02},{"t":13.23,"v":0.32},{"t":13.36,"v":0.27},{"t":13.48,"v":-0.14},
      {"t":13.61,"v":-0.14},{"t":13.74,"v":-0.83},{"t":13.86,"v":-1.07},{"t":14.01,"v":-1.47},{"t":14.11,"v":-0.83},{"t":14.24,"v":-0.74},{"t":14.37,"v":-0.49},{"t":14.47,"v":0.21},{"t":14.56,"v":1.19},{"t":14.65,"v":0.79},{"t":14.75,"v":0.96},{"t":14.83,"v":1.60},{"t":14.94,"v":2.30},{"t":15.02,"v":1.72},{"t":15.12,"v":0.67},{"t":15.25,"v":-0.08},{"t":15.38,"v":-0.20},{"t":15.50,"v":-0.60},{"t":15.63,"v":-1.18},{"t":15.75,"v":-1.47},{"t":15.88,"v":-1.65},{"t":16.01,"v":-1.94},{"t":16.11,"v":-1.97},{"t":16.23,"v":-1.76},{"t":16.36,"v":-1.30},{"t":16.49,"v":-0.08},{"t":16.61,"v":0.03},{"t":16.74,"v":0.21},{"t":16.86,"v":1.02},{"t":16.98,"v":1.66},{"t":17.08,"v":0.85},{"t":17.21,"v":0.67},{"t":17.33,"v":0.50},{"t":17.46,"v":-0.02},{"t":17.58,"v":-1.01},{"t":17.71,"v":-1.07},{"t":17.84,"v":-1.59},{"t":17.96,"v":-1.65},{"t":18.09,"v":-1.70},{"t":18.21,"v":-0.95},{"t":18.34,"v":-0.14},{"t":18.47,"v":0.56},{"t":18.59,"v":0.30},{"t":18.68,"v":0.21},{"t":18.78,"v":1.25},{"t":18.88,"v":1.89},{"t":18.97,"v":1.25},{"t":19.10,"v":0.93},{"t":19.20,"v":0.85},{"t":19.32,"v":1.43},{"t":19.41,"v":0.96},{"t":19.54,"v":-0.08},{"t":19.64,"v":0.21},{"t":19.73,"v":0.67},{"t":19.83,"v":-0.83},{"t":19.95,"v":-1.53},{"t":20.08,"v":-1.76},{"t":20.21,"v":-1.65},{"t":20.36,"v":-1.18},{"t":20.48,"v":-0.49},{"t":20.61,"v":0.67},{"t":20.74,"v":1.77},{"t":20.86,"v":1.31},{"t":20.99,"v":0.67},{"t":21.11,"v":0.79},{"t":21.24,"v":1.37},{"t":21.37,"v":0.50},{"t":21.49,"v":-0.08},{"t":21.62,"v":-0.43},{"t":21.75,"v":-1.12},{"t":21.87,"v":-1.53},{"t":22.00,"v":-1.41},{"t":22.16,"v":-1.41},{"t":22.29,"v":-0.72},{"t":22.41,"v":-0.66},{"t":22.54,"v":-0.26},{"t":22.67,"v":1.25},{"t":22.76,"v":1.19},{"t":22.88,"v":0.85},{"t":23.01,"v":0.50},{"t":23.13,"v":0.85},{"t":23.26,"v":-0.02},{"t":23.38,"v":-0.49},{"t":23.51,"v":-0.83},{"t":23.64,"v":-1.12},{"t":23.76,"v":-1.70},{"t":23.89,"v":-2.11},{"t":24.01,"v":-1.99},{"t":24.14,"v":-0.83},{"t":24.20,"v":-0.02},{"t":24.33,"v":0.32},{"t":24.43,"v":0.21},{"t":24.53,"v":1.25},{"t":24.65,"v":2.06},{"t":24.73,"v":1.83},{"t":24.83,"v":0.90},{"t":25.02,"v":0.73},{"t":25.15,"v":0.50},{"t":25.28,"v":0.15},{"t":25.40,"v":-0.26},{"t":25.57,"v":-0.02},{"t":25.72,"v":-0.37},{"t":25.85,"v":-0.89},{"t":25.97,"v":-0.83},{"t":26.16,"v":-0.83},{"t":26.28,"v":-0.49},{"t":26.37,"v":-0.54},{"t":26.47,"v":0.32},{"t":26.58,"v":1.25},{"t":26.66,"v":0.56},{"t":26.79,"v":0.03},{"t":26.92,"v":0.09},{"t":27.00,"v":0.67},{"t":27.13,"v":0.85},{"t":27.23,"v":0.38},{"t":27.33,"v":-0.08},{"t":27.42,"v":0.67},{"t":27.52,"v":1.22},{"t":27.63,"v":0.32},{"t":27.73,"v":-0.37},{"t":27.86,"v":-0.31},{"t":27.96,"v":-0.26},{"t":28.05,"v":-0.60},{"t":28.18,"v":-0.66},{"t":28.30,"v":-0.14},{"t":28.39,"v":0.67},{"t":28.49,"v":2.09},{"t":28.62,"v":1.72},{"t":28.74,"v":1.14},{"t":28.87,"v":1.02},{"t":29.00,"v":0.56},{"t":29.12,"v":0.09},{"t":29.25,"v":-0.95},{"t":29.38,"v":-0.93},{"t":29.48,"v":-0.78}
    ]
  },
  "spacing": 16.5,
  "vconcat": [
    {
      "bounds": "flush",
      "spacing": 24,
      "resolve": {"scale": {"color": "independent"}, "legend": {"color": "independent"}},
      "vconcat": [
        {
          "width": 766, "height": 143,
          "title": {"text": "RMM Indices"},
          "layer": [
            {
              "data": {"name": "rmmA"},
              "mark": {"type": "line", "strokeWidth": 1.6, "clip": true, "strokeJoin": "round"},
              "encoding": {
                "x": {"field": "m", "type": "quantitative", "scale": {"domain": [0.5, 12.66], "nice": false, "zero": false}, "axis": {"values": [1,2,3,4,5,6,7,8,9,10,11,12], "labels": false, "title": null}},
                "y": {"field": "v", "type": "quantitative", "scale": {"domain": [-3.5, 3.5], "nice": false, "zero": false}, "axis": {"values": [-3,-2,-1,0,1,2,3], "labelExpr": "datum.value % 3 === 0 ? '' + datum.value : ''", "title": null}},
                "color": {"field": "s", "type": "nominal", "scale": {"domain": ["PC1", "PC2"], "range": ["#b22222", "#483d8b"]}, "legend": {"title": null, "orient": "none", "legendX": 533, "legendY": 5, "direction": "horizontal", "symbolType": "stroke", "symbolSize": 1681, "symbolStrokeWidth": 2, "labelFontSize": 19.5, "labelFont": "DejaVu Sans", "labelColor": "black", "labelOffset": 15, "columnPadding": 31, "padding": 0, "labelLimit": 0}}
              }
            },
            {
              "data": {"values": [{"v": 0}]},
              "mark": {"type": "rule", "strokeDash": [4.5, 2.5], "color": "black", "strokeWidth": 1.1},
              "encoding": {"y": {"field": "v", "type": "quantitative"}}
            },
            {
              "data": {"values": [{"label": "a) Observations"}]},
              "mark": {"type": "text", "align": "left", "baseline": "alphabetic", "dx": 4, "dy": 18, "fontSize": 19.5, "color": "black"},
              "encoding": {"x": {"datum": 0.5, "type": "quantitative"}, "y": {"datum": 3.5, "type": "quantitative"}, "text": {"field": "label"}}
            }
          ]
        },
        {
          "width": 766, "height": 143,
          "layer": [
            {
              "data": {"name": "rmmB"},
              "mark": {"type": "line", "strokeWidth": 1.6, "clip": true, "strokeJoin": "round"},
              "encoding": {
                "x": {"field": "m", "type": "quantitative", "scale": {"domain": [0.5, 12.66], "nice": false, "zero": false}, "axis": {"values": [1,2,3,4,5,6,7,8,9,10,11,12], "format": "d", "title": "Month of Year"}},
                "y": {"field": "v", "type": "quantitative", "scale": {"domain": [-3.5, 3.5], "nice": false, "zero": false}, "axis": {"values": [-3,-2,-1,0,1,2,3], "labelExpr": "datum.value % 3 === 0 ? '' + datum.value : ''", "title": "Principal Component Magnitude (σ)", "titleX": -44, "titleY": -10, "titleBaseline": "alphabetic", "titleAngle": -90, "titleAlign": "center"}},
                "color": {"field": "s", "type": "nominal", "scale": {"domain": ["PC1", "PC2"], "range": ["#b22222", "#483d8b"]}, "legend": {"title": null, "orient": "none", "legendX": 533, "legendY": 5, "direction": "horizontal", "symbolType": "stroke", "symbolSize": 1681, "symbolStrokeWidth": 2, "labelFontSize": 19.5, "labelFont": "DejaVu Sans", "labelColor": "black", "labelOffset": 15, "columnPadding": 31, "padding": 0, "labelLimit": 0}}
              }
            },
            {
              "data": {"values": [{"v": 0}]},
              "mark": {"type": "rule", "strokeDash": [4.5, 2.5], "color": "black", "strokeWidth": 1.1},
              "encoding": {"y": {"field": "v", "type": "quantitative"}}
            },
            {
              "data": {"values": [{"label": "b) CESM2 WACCM"}]},
              "mark": {"type": "text", "align": "left", "baseline": "alphabetic", "dx": 4, "dy": 18, "fontSize": 19.5, "color": "black"},
              "encoding": {"x": {"datum": 0.5, "type": "quantitative"}, "y": {"datum": 3.5, "type": "quantitative"}, "text": {"field": "label"}}
            }
          ]
        }
      ]
    },
    {
      "bounds": "flush",
      "spacing": 24,
      "vconcat": [
        {
          "width": 766, "height": 143,
          "title": {"text": "QBO Indices"},
          "layer": [
            {
              "data": {"name": "qboC"},
              "mark": {"type": "line", "strokeWidth": 1.6, "clip": true, "strokeJoin": "round", "color": "#483d8b"},
              "encoding": {
                "x": {"field": "t", "type": "quantitative", "scale": {"domain": [0.5, 29.48], "nice": false, "zero": false}, "axis": {"values": [1,2,3,4,5,6,7,8,9,10,11,12,13,14,15,16,17,18,19,20,21,22,23,24,25,26,27,28,29], "labels": false, "title": null}},
                "y": {"field": "v", "type": "quantitative", "scale": {"domain": [-2.5, 2.5], "nice": false, "zero": false}, "axis": {"values": [-2,-1,0,1,2], "labelExpr": "datum.value % 2 === 0 ? '' + datum.value : ''", "title": null}}
              }
            },
            {
              "data": {"values": [{"v": 0.5}, {"v": -0.5}]},
              "mark": {"type": "rule", "strokeDash": [4.5, 2.5], "color": "black", "strokeWidth": 1.1},
              "encoding": {"y": {"field": "v", "type": "quantitative"}}
            },
            {
              "data": {"values": [{"label": "c) Observations"}]},
              "mark": {"type": "text", "align": "left", "baseline": "alphabetic", "dx": 4, "dy": 18, "fontSize": 19.5, "color": "black"},
              "encoding": {"x": {"datum": 0.5, "type": "quantitative"}, "y": {"datum": 2.5, "type": "quantitative"}, "text": {"field": "label"}}
            }
          ]
        },
        {
          "width": 766, "height": 143,
          "layer": [
            {
              "data": {"name": "qboD"},
              "mark": {"type": "line", "strokeWidth": 1.6, "clip": true, "strokeJoin": "round", "color": "#483d8b"},
              "encoding": {
                "x": {"field": "t", "type": "quantitative", "scale": {"domain": [0.5, 29.48], "nice": false, "zero": false}, "axis": {"values": [1,2,3,4,5,6,7,8,9,10,11,12,13,14,15,16,17,18,19,20,21,22,23,24,25,26,27,28,29], "labelExpr": "datum.value % 2 === 1 ? '' + datum.value : ''", "title": "Year"}},
                "y": {"field": "v", "type": "quantitative", "scale": {"domain": [-2.5, 2.5], "nice": false, "zero": false}, "axis": {"values": [-2,-1,0,1,2], "labelExpr": "datum.value % 2 === 0 ? '' + datum.value : ''", "title": "Standardized U50 (σ)", "titleX": -44, "titleY": -10, "titleBaseline": "alphabetic", "titleAngle": -90, "titleAlign": "center"}}
              }
            },
            {
              "data": {"values": [{"v": 0.5}, {"v": -0.5}]},
              "mark": {"type": "rule", "strokeDash": [4.5, 2.5], "color": "black", "strokeWidth": 1.1},
              "encoding": {"y": {"field": "v", "type": "quantitative"}}
            },
            {
              "data": {"values": [{"label": "d) CESM2 WACCM"}]},
              "mark": {"type": "text", "align": "left", "baseline": "alphabetic", "dx": 4, "dy": 18, "fontSize": 19.5, "color": "black"},
              "encoding": {"x": {"datum": 0.5, "type": "quantitative"}, "y": {"datum": 2.5, "type": "quantitative"}, "text": {"field": "label"}}
            }
          ]
        }
      ]
    }
  ]
}
